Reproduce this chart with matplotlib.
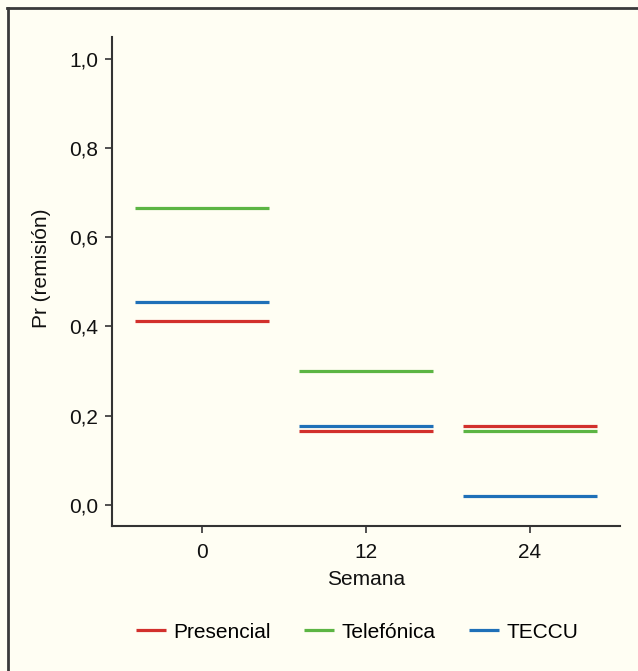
import numpy as np
import matplotlib.pyplot as plt
from matplotlib.lines import Line2D

plt.rcParams['font.family'] = ['Liberation Sans', 'DejaVu Sans']

semanas = [0, 12, 24]
grupos = ["Presencial", "Telefónica", "TECCU"]
colores = ["#d2302c", "#5cb543", "#1f70b8"]
presencial = [0.412, 0.165, 0.176]
telefonica = [0.667, 0.300, 0.165]
teccu = [0.455, 0.176, 0.020]
y_ticks = [0.0, 0.2, 0.4, 0.6, 0.8, 1.0]
y_labels = ["0,0", "0,2", "0,4", "0,6", "0,8", "1,0"]

fondo = "#fffef3"
gris = "#333333"
ancho = 4.9
fs = 15

fig = plt.figure(figsize=(6.38, 6.71), dpi=100, facecolor=fondo)
ax = fig.add_axes([112 / 638, 1 - 526 / 671, 508 / 638, 489 / 671])
ax.set_facecolor(fondo)

for nombre, valores, color in zip(grupos, [presencial, telefonica, teccu], colores):
    x = np.array(semanas)
    ax.hlines(valores, x - ancho, x + ancho, colors=color, linewidth=2.3, label=nombre)

ax.set_xlim(-6.6, 30.6)
ax.set_ylim(-0.048, 1.05)
ax.set_xticks(semanas)
ax.set_xticklabels([str(s) for s in semanas])
ax.set_yticks(y_ticks)
ax.set_yticklabels(y_labels)

for lado in ["top", "right"]:
    ax.spines[lado].set_visible(False)
for lado in ["left", "bottom"]:
    ax.spines[lado].set_color(gris)
    ax.spines[lado].set_linewidth(1.5)
ax.tick_params(colors=gris, labelcolor="#111111", labelsize=fs, length=5, width=1.2)
ax.tick_params(axis="x", pad=7)
ax.tick_params(axis="y", pad=5)

ax.set_xlabel("Semana", fontsize=fs, color="#111111", labelpad=6)
ax.set_ylabel("Pr (remisión)", fontsize=fs, color="#111111")
ax.yaxis.set_label_coords(-0.12, 0.528)

fig.legend(loc="center", bbox_to_anchor=(357 / 638, 1 - 632 / 671), ncol=3, frameon=False,
           fontsize=fs, handlelength=1.45, handletextpad=0.35, columnspacing=1.6)

# marco del recuadro (solo izquierda y arriba)
fig.add_artist(Line2D([8 / 638, 8 / 638], [0, 1 - 7.5 / 671], transform=fig.transFigure, color="#3a3a3a", linewidth=2))
fig.add_artist(Line2D([7 / 638, 1], [1 - 7.5 / 671, 1 - 7.5 / 671], transform=fig.transFigure, color="#3a3a3a", linewidth=2))

fig.savefig("out.png", dpi=100, facecolor=fondo)
